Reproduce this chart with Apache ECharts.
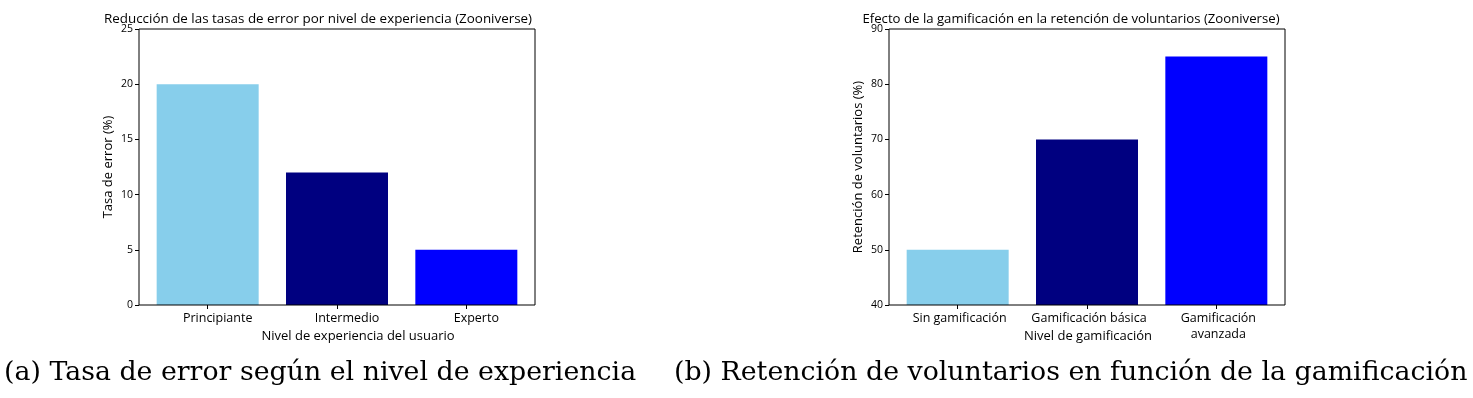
<!DOCTYPE html>
<html>
<head>
<meta charset="utf-8">
<script src="https://cdn.jsdelivr.net/npm/echarts@6/dist/echarts.min.js"></script>
<style>
  html, body { margin: 0; padding: 0; background: #fff; }
  #chart { width: 1473px; height: 398px; }
</style>
</head>
<body>
<div id="chart"></div>
<script>
// left panel: error rate by experience level
const levels = ["Principiante", "Intermedio", "Experto"];
const errorRates = [20, 12, 5];

// right panel: retention by gamification level
const gamification = ["Sin gamificación", "Gamificación básica", "Gamificación\navanzada"];
const retention = [50, 70, 85];

const barColors = ["#87CEEB", "#000080", "#0000FF"];

const font = "Open Sans";
const serif = "DejaVu Serif";

function colored(values) {
  return values.map((v, i) => ({ value: v, itemStyle: { color: barColors[i] } }));
}

// bars live in a slightly narrower grid (matplotlib margins), the frame grid draws the box
function yAxis(gridIndex, min, max, interval, name) {
  return {
    gridIndex,
    type: "value",
    min,
    max,
    interval,
    offset: 4,
    name,
    nameLocation: "middle",
    nameGap: 24,
    nameTextStyle: { color: "#000", fontFamily: font, fontSize: 13 },
    splitLine: { show: false },
    axisLine: { show: false },
    axisTick: { show: true, length: 4, lineStyle: { color: "#000" } },
    axisLabel: { color: "#000", fontFamily: font, fontSize: 10.5, margin: 6 },
  };
}

function xAxis(gridIndex, data, shift) {
  return {
    gridIndex,
    type: "category",
    data,
    axisLine: { show: false },
    axisTick: { show: true, alignWithLabel: true, length: 4, lineStyle: { color: "#000" } },
    axisLabel: {
      color: "#000", fontFamily: font, fontSize: 12.5, margin: 5,
      lineHeight: 16, interval: 0, hideOverlap: false,
      padding: [0, 0, 0, shift],
    },
  };
}

const chart = echarts.init(document.getElementById("chart"));
const axisNameStyle = { fontFamily: font, fontSize: 13, fontWeight: "normal", color: "#000" };
chart.setOption({
  animation: false,
  title: [
    {
      text: "Reducción de las tasas de error por nivel de experiencia (Zooniverse)",
      left: 313, top: 8, textAlign: "center",
      textStyle: { fontFamily: font, fontSize: 13.4, fontWeight: "normal", color: "#000" },
    },
    {
      text: "Efecto de la gamificación en la retención de voluntarios (Zooniverse)",
      left: 1066, top: 8, textAlign: "center",
      textStyle: { fontFamily: font, fontSize: 13.2, fontWeight: "normal", color: "#000" },
    },
    // x axis names sit between the tick labels, as in the original
    {
      text: "Nivel de experiencia del usuario",
      left: 353, top: 325, textAlign: "center",
      textStyle: axisNameStyle,
    },
    {
      text: "Nivel de gamificación",
      left: 1083, top: 325, textAlign: "center",
      textStyle: axisNameStyle,
    },
    {
      text: "(a) Tasa de error según el nivel de experiencia",
      left: -1, top: 355,
      textStyle: { fontFamily: serif, fontSize: 26.8, fontWeight: "normal", color: "#000" },
    },
    {
      text: "(b) Retención de voluntarios en función de la gamificación",
      left: 669, top: 355,
      textStyle: { fontFamily: serif, fontSize: 26.8, fontWeight: "normal", color: "#000" },
    },
  ],
  grid: [
    { left: 143, top: 29, width: 388, height: 276 },
    { left: 893, top: 29, width: 388, height: 276 },
    { left: 139, top: 29, width: 396, height: 276, show: true, borderColor: "#000", borderWidth: 1, z: 5 },
    { left: 889, top: 29, width: 396, height: 276, show: true, borderColor: "#000", borderWidth: 1, z: 5 },
  ],
  xAxis: [
    xAxis(0, levels, 20),
    xAxis(1, gamification, 4),
  ],
  yAxis: [
    yAxis(0, 0, 25, 5, "Tasa de error (%)"),
    yAxis(1, 40, 90, 10, "Retención de voluntarios (%)"),
  ],
  series: [
    { type: "bar", xAxisIndex: 0, yAxisIndex: 0, barWidth: 102, data: colored(errorRates) },
    { type: "bar", xAxisIndex: 1, yAxisIndex: 1, barWidth: 102, data: colored(retention) },
  ],
});
</script>
</body>
</html>
